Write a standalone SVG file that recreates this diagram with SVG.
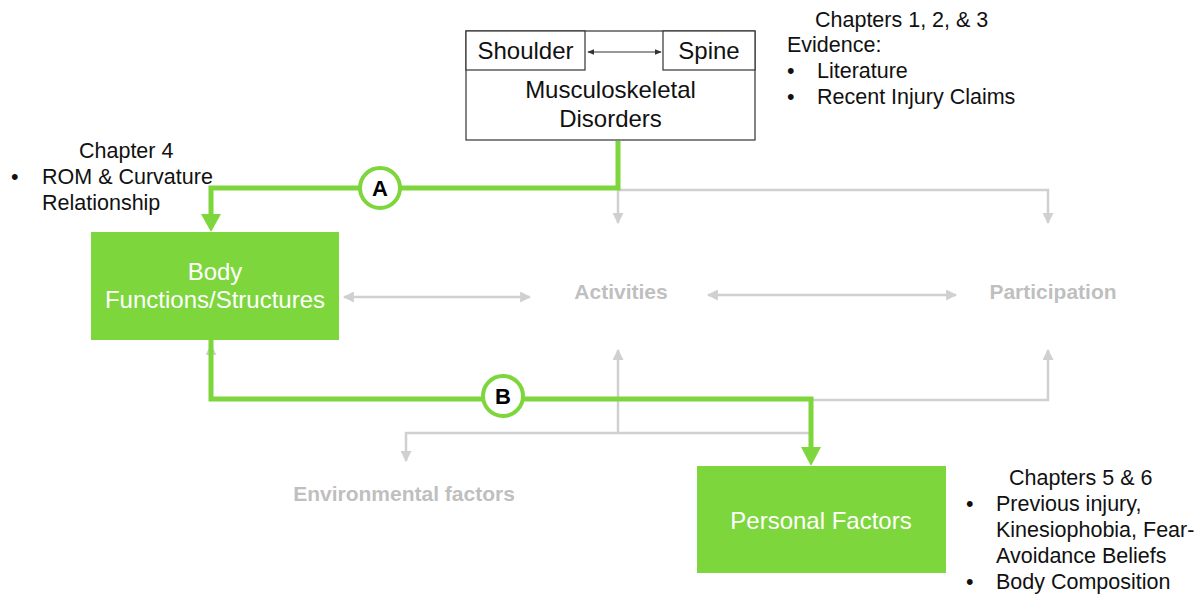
<svg xmlns="http://www.w3.org/2000/svg" width="1200" height="596" viewBox="0 0 1200 596">
<style>
.t{font-family:"Liberation Sans",Arial,sans-serif;fill:#111}
.ann{font-size:21.5px}
.node{font-size:24px}
.wt{font-family:"Liberation Sans",Arial,sans-serif;fill:#fff;font-size:24px}
.gt{font-family:"Liberation Sans",Arial,sans-serif;fill:#bfbfbf;font-size:21px;font-weight:bold}
.box{fill:#fff;stroke:#333;stroke-width:1.2}
.green{fill:#7dd63c}
.gl{fill:none;stroke:#7dd63c;stroke-width:5}
.gr{fill:none;stroke:#d0d0d0;stroke-width:2.5}
.circ{fill:#fff;stroke:#7dd63c;stroke-width:4}
.lab{font-family:"Liberation Sans",Arial,sans-serif;font-weight:bold;font-size:22px;fill:#000}
</style>
<defs>
<marker id="ga" viewBox="0 0 10 10" refX="9" refY="5" markerWidth="4.4" markerHeight="4.4" orient="auto-start-reverse" markerUnits="strokeWidth">
<path d="M0,0 L10,5 L0,10 z" fill="#d0d0d0"/>
</marker>
<marker id="da" viewBox="0 0 10 10" refX="9" refY="5" markerWidth="6" markerHeight="6" orient="auto-start-reverse" markerUnits="strokeWidth">
<path d="M0,1 L10,5 L0,9 z" fill="#333"/>
</marker>
</defs>
<g id="msd">
<rect class="box" x="466" y="31" width="289" height="109"/>
<text class="t node" x="610.5" y="98" text-anchor="middle">Musculoskeletal</text>
<text class="t node" x="610.5" y="127" text-anchor="middle">Disorders</text>
</g>
<g id="shoulder">
<rect class="box" x="466" y="31" width="119" height="39"/>
<text class="t node" x="525.5" y="59" text-anchor="middle">Shoulder</text>
</g>
<g id="spine">
<rect class="box" x="663" y="31" width="92" height="39"/>
<text class="t node" x="709" y="59" text-anchor="middle">Spine</text>
</g>
<g id="body">
<rect class="green" x="91" y="232" width="248" height="108"/>
<text class="wt" x="215" y="280" text-anchor="middle">Body</text>
<text class="wt" x="215" y="308" text-anchor="middle">Functions/Structures</text>
</g>
<g id="activities">
<text class="gt" x="621" y="299" text-anchor="middle">Activities</text>
</g>
<g id="participation">
<text class="gt" x="1053" y="299" text-anchor="middle">Participation</text>
</g>
<g id="environmental">
<text class="gt" x="404" y="501" text-anchor="middle">Environmental factors</text>
</g>
<g id="personal">
<rect class="green" x="697" y="466" width="249" height="107"/>
<text class="wt" x="821" y="529" text-anchor="middle">Personal Factors</text>
</g>
<g id="note-ch123">
<text class="t ann" x="815" y="27">Chapters 1, 2, &amp; 3</text>
<text class="t ann" x="787" y="52">Evidence:</text>
<text class="t ann" x="787" y="78">•</text>
<text class="t ann" x="817" y="78">Literature</text>
<text class="t ann" x="787" y="104">•</text>
<text class="t ann" x="817" y="104">Recent Injury Claims</text>
</g>
<g id="note-ch4">
<text class="t ann" x="79" y="158">Chapter 4</text>
<text class="t ann" x="11" y="184">•</text>
<text class="t ann" x="42" y="184">ROM &amp; Curvature</text>
<text class="t ann" x="42" y="210">Relationship</text>
</g>
<g id="note-ch56">
<text class="t ann" x="1009" y="485">Chapters 5 &amp; 6</text>
<text class="t ann" x="966" y="511">•</text>
<text class="t ann" x="996" y="511">Previous injury,</text>
<text class="t ann" x="996" y="537">Kinesiophobia, Fear-</text>
<text class="t ann" x="996" y="563">Avoidance Beliefs</text>
<text class="t ann" x="966" y="589">•</text>
<text class="t ann" x="996" y="589">Body Composition</text>
</g>
<g id="connectors">
<path class="gr" d="M618,190 L1048,190 L1048,223" marker-end="url(#ga)"/>
<path class="gr" d="M618,190 L618,223" marker-end="url(#ga)"/>
<path class="gr" d="M344,297 L530,297" marker-start="url(#ga)" marker-end="url(#ga)"/>
<path class="gr" d="M708,295 L956,295" marker-start="url(#ga)" marker-end="url(#ga)"/>
<path class="gr" d="M618,433 L618,350" marker-end="url(#ga)"/>
<path class="gr" d="M812,400 L1048,400 L1048,350" marker-end="url(#ga)"/>
<path class="gr" d="M812,433 L406,433 L406,461" marker-end="url(#ga)"/>
<path class="gr" d="M211,399 L211,345" marker-end="url(#ga)"/>
<path d="M588,52 L661,52" stroke="#333" stroke-width="1.2" fill="none" marker-start="url(#da)" marker-end="url(#da)"/>
<path class="gl" d="M618,141 L618,188 L211,188 L211,216"/>
<path class="green" d="M201,214 L221,214 L211,232 z"/>
<path class="gl" d="M211,340 L211,399 L811,399 L811,449"/>
<path class="green" d="M801,447 L821,447 L811,466 z"/>
<circle class="circ" cx="380" cy="188" r="20"/>
<text class="lab" x="380" y="196" text-anchor="middle">A</text>
<circle class="circ" cx="503" cy="396" r="20"/>
<text class="lab" x="503" y="404" text-anchor="middle">B</text>
</g>
</svg>
